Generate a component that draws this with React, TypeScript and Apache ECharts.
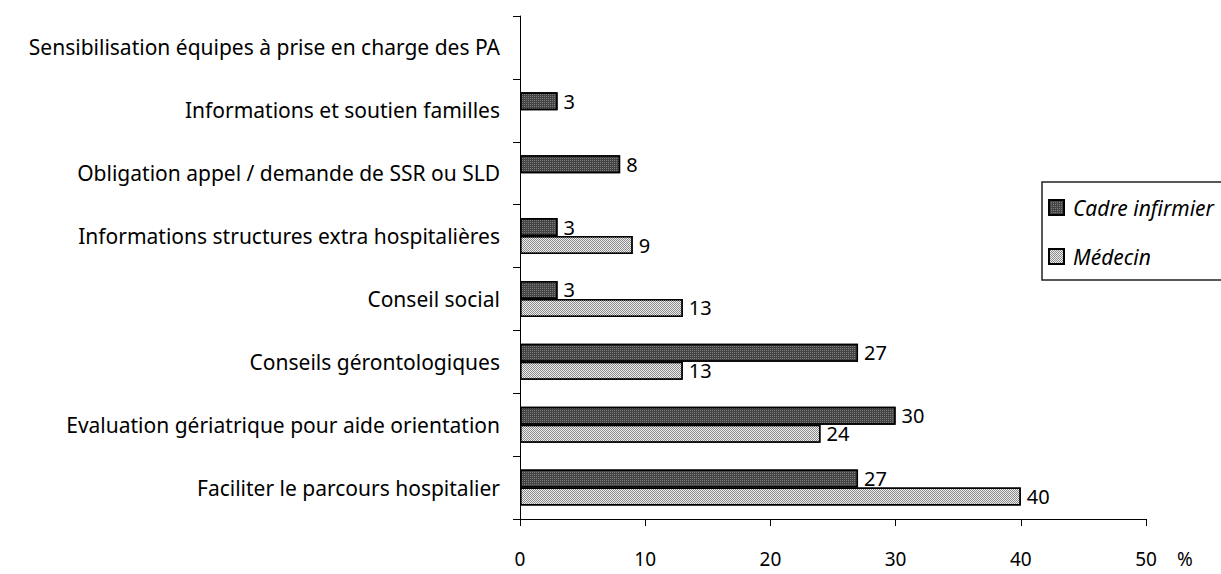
import React, { useEffect, useRef } from "react";
import * as echarts from "echarts";

const categories = [
  "Sensibilisation équipes à prise en charge des PA",
  "Informations et soutien familles",
  "Obligation appel / demande de SSR ou SLD",
  "Informations structures extra hospitalières",
  "Conseil social",
  "Conseils gérontologiques",
  "Evaluation gériatrique pour aide orientation",
  "Faciliter le parcours hospitalier",
];
const cadreInfirmier = [null, 3, 8, 3, 3, 27, 30, 27];
const medecin = [null, null, null, 9, 13, 13, 24, 40];
const xTicks = { min: 0, max: 50, interval: 10 };
const seriesNames = ["Cadre infirmier", "Médecin"];

const FONT = '"Comic Sans MS", "Noto Sans", sans-serif';

export default function App() {
  const ref = useRef<HTMLDivElement>(null);
  useEffect(() => {
    if (!ref.current) return;
    const chart = echarts.init(ref.current, undefined, { renderer: "svg" });
    const labelStyle = {
      show: true,
      position: "right",
      distance: 6,
      color: "#000",
      fontSize: 20,
      fontFamily: FONT,
    };
    chart.setOption({
      animation: false,
      backgroundColor: "#fff",
      textStyle: { fontFamily: FONT },
      grid: { left: 520, right: 75, top: 16, bottom: 55, containLabel: false },
      legend: {
        orient: "vertical",
        left: 1042,
        top: 182,
        padding: [15, 30, 13, 6],
        itemWidth: 15,
        itemHeight: 15,
        itemGap: 28,
        borderColor: "#222",
        borderWidth: 1.5,
        icon: "rect",
        textStyle: {
          fontSize: 21,
          fontStyle: "italic",
          color: "#000",
          fontFamily: FONT,
          padding: [0, 0, 0, 4],
        },
        data: seriesNames,
      },
      xAxis: {
        type: "value",
        min: xTicks.min,
        max: xTicks.max,
        interval: xTicks.interval,
        name: "%",
        nameLocation: "end",
        nameGap: 31,
        nameTextStyle: {
          color: "#000",
          fontSize: 19,
          lineHeight: 19,
          fontFamily: FONT,
          align: "left",
          verticalAlign: "top",
          padding: [30, 0, 0, 0],
        },
        axisLine: { show: true, lineStyle: { color: "#000", width: 1 } },
        axisTick: { show: true, length: 7, lineStyle: { color: "#000" } },
        axisLabel: {
          color: "#000",
          fontSize: 19,
          lineHeight: 19,
          margin: 30,
          fontFamily: FONT,
        },
        splitLine: { show: false },
      },
      yAxis: {
        type: "category",
        data: categories,
        inverse: true,
        axisLine: { show: true, lineStyle: { color: "#000", width: 1 } },
        axisTick: { show: true, length: 7, lineStyle: { color: "#000" } },
        axisLabel: { color: "#000", fontSize: 21, margin: 20, fontFamily: FONT },
      },
      series: [
        {
          name: seriesNames[0],
          type: "bar",
          data: cadreInfirmier,
          barWidth: 18,
          barGap: "0%",
          itemStyle: {
            color: "#444444",
            borderColor: "#000",
            borderWidth: 1.5,
            decal: {
              symbol: "rect",
              symbolSize: 1,
              color: "rgba(255,255,255,0.3)",
              dashArrayX: [1, 1],
              dashArrayY: [1, 1],
            },
          },
          label: labelStyle,
        },
        {
          name: seriesNames[1],
          type: "bar",
          data: medecin,
          barWidth: 18,
          barGap: "0%",
          itemStyle: {
            color: "#8a8a8a",
            borderColor: "#000",
            borderWidth: 1.5,
            decal: {
              symbol: "rect",
              symbolSize: 1,
              color: "rgba(255,255,255,0.85)",
              dashArrayX: [
                [1, 1],
                [0, 1, 1, 0],
              ],
              dashArrayY: [1, 0],
            },
          },
          label: labelStyle,
        },
      ],
    });
    return () => chart.dispose();
  }, []);
  return (
    <div
      ref={ref}
      style={{ position: "fixed", left: 0, top: 0, width: 1221, height: 574 }}
    />
  );
}
